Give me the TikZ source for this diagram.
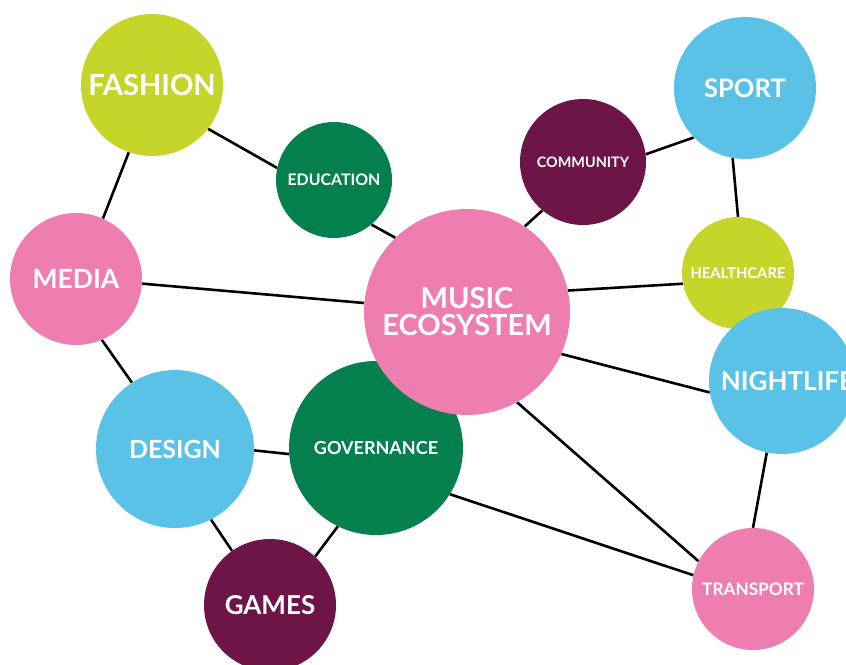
\documentclass[tikz,border=0pt]{standalone}
\usepackage{fontspec}
\setmainfont{Lato}
\usetikzlibrary{backgrounds}
\definecolor{lime}{HTML}{C5D52A}
\definecolor{dgreen}{HTML}{04804E}
\definecolor{pinkc}{HTML}{EE7DB0}
\definecolor{plum}{HTML}{6C1546}
\definecolor{skyb}{HTML}{5BC2E7}
\tikzset{
  bub/.style={circle, inner sep=0pt, text=white, align=center, font=\bfseries},
  link/.style={line width=2.6pt, black}
}
\newcommand{\fs}[1]{\bfseries\fontsize{#1}{#1}\selectfont}
\begin{document}
\begin{tikzpicture}[x=1pt,y=-1pt]
\useasboundingbox (0,0) rectangle (846,664);
\node[bub, fill=lime, minimum size=142pt, font=\fs{29}] (fashion) at (152,85) {FASHION};
\node[bub, fill=dgreen, minimum size=116pt, font=\fs{15.9}] (education) at (334,180) {EDUCATION};
\node[bub, fill=pinkc, minimum size=132pt, font=\fs{26.5}] (media) at (76,279) {MEDIA};
\node[bub, fill=plum, minimum size=126pt, font=\fs{14.4}] (community) at (583,162) {COMMUNITY};
\node[bub, fill=skyb, minimum size=142pt, font=\fs{25.5}] (sport) at (745,88) {SPORT};
\node[bub, fill=lime, minimum size=112pt, font=\fs{14.8}] (health) at (738,273) {HEALTHCARE};
\node[bub, fill=skyb, minimum size=146pt, font=\fs{26}] (night) at (782,381) {\hspace*{11pt}NIGHTLIFE};
\node[bub, fill=skyb, minimum size=158pt, font=\fs{25}] (design) at (175,449) {DESIGN};
\node[bub, fill=dgreen, minimum size=174pt, font=\fs{18}] (gov) at (376,448) {GOVERNANCE};
\node[bub, fill=pinkc, minimum size=206pt, font=\bfseries\fontsize{29}{27}\selectfont] (music) at (467,312) {MUSIC\\ECOSYSTEM};
\node[bub, fill=plum, minimum size=132pt, font=\fs{26}] (games) at (270,605) {GAMES};
\node[bub, fill=pinkc, minimum size=122pt, font=\fs{17.2}] (transport) at (753,589) {TRANSPORT};
\begin{scope}[on background layer]
\draw[link] (fashion.-38) -- (education.168);
\draw[link] (fashion.251) -- (media.66.6);
\draw[link] (education.-50) -- (music.134.6);
\draw[link] (media.-4.3) -- (music.175.6);
\draw[link] (media.-67) -- (design.123.5);
\draw[link] (design.-1) -- (gov.184);
\draw[link] (design.-63) -- (games.125.6);
\draw[link] (games.47.5) -- (gov.244);
\draw[link] (gov.-32) -- (transport.167.8);
\draw[link] (music.-61) -- (transport.153);
\draw[link] (music.-24.4) -- (night.189.6);
\draw[link] (music.12.8) -- (health.191);
\draw[link] (music.56.5) -- (community.230);
\draw[link] (community.7.2) -- (sport.224);
\draw[link] (sport.260) -- (health.90);
\draw[link] (night.258) -- (transport.90);
\end{scope}
\end{tikzpicture}
\end{document}
